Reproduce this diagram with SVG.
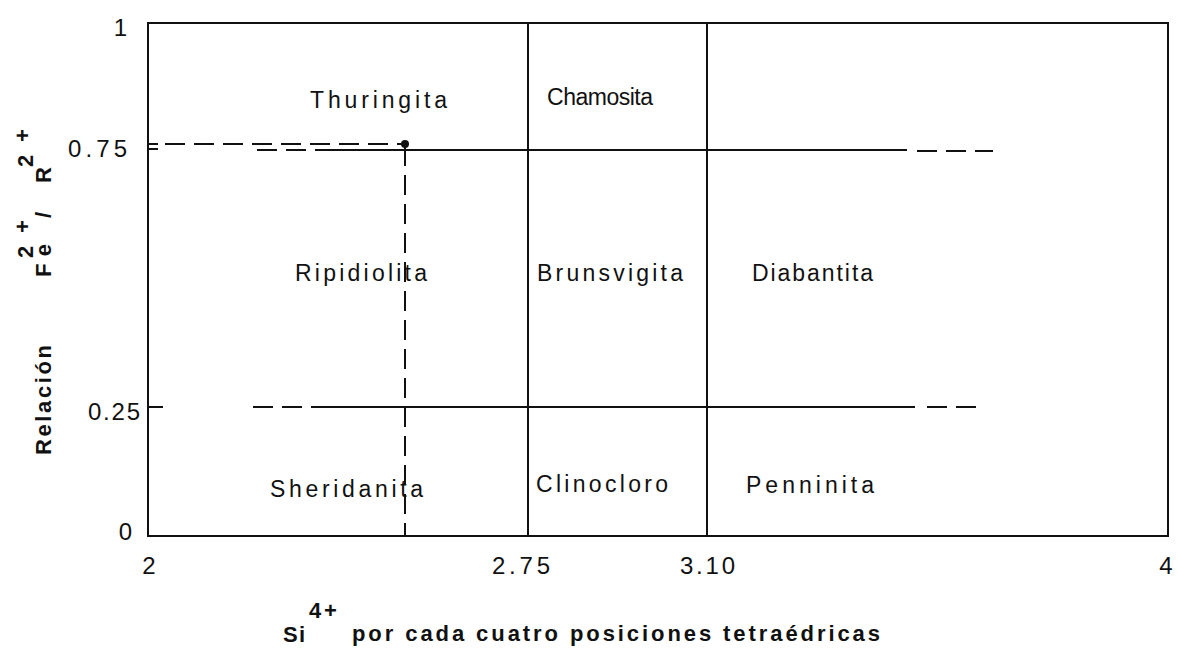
<svg xmlns="http://www.w3.org/2000/svg" width="1178" height="652" viewBox="0 0 1178 652">
<style>
.ln{stroke:#111;fill:none;stroke-width:2}
.dash{stroke:#111;fill:none;stroke-width:2;stroke-dasharray:20 9}
.lbl{font-family:"Liberation Sans",Arial,sans-serif;font-size:23px;fill:#111}
.tick{font-family:"Liberation Sans",Arial,sans-serif;font-size:24px;fill:#111}
.ttl{font-family:"Liberation Sans",Arial,sans-serif;font-size:22px;font-weight:bold;fill:#111}
</style>
<rect width="1178" height="652" fill="#fff"/>
<g id="frame">
<rect x="148" y="23" width="1020" height="513" class="ln" stroke-width="2.5"/>
</g>
<g id="connectors">
<line x1="528" y1="23" x2="528" y2="536" class="ln"/>
<line x1="707" y1="23" x2="707" y2="536" class="ln"/>
<line x1="148" y1="144" x2="158" y2="144" class="ln"/>
<line x1="148" y1="149" x2="158" y2="149" class="ln"/>
<line x1="165" y1="144" x2="402" y2="144" class="dash" stroke-dasharray="16 10"/>
<line x1="257" y1="150" x2="327" y2="150" class="dash" stroke-dasharray="16 7"/>
<line x1="327" y1="150" x2="907" y2="150" class="ln"/>
<line x1="917" y1="151" x2="993" y2="151" class="dash" stroke-dasharray="20 8"/>
<line x1="148" y1="407" x2="163" y2="407" class="ln"/>
<line x1="253" y1="407" x2="327" y2="407" class="dash" stroke-dasharray="26 8"/>
<line x1="327" y1="407" x2="915" y2="407" class="ln"/>
<line x1="927" y1="407" x2="985" y2="407" class="dash" stroke-dasharray="22 14"/>
<line x1="405" y1="146" x2="405" y2="536" class="dash" stroke-width="1.8" stroke-dasharray="14 9"/>
<circle cx="405" cy="144" r="4" fill="#111"/>
</g>
<g id="ticks">
<text class="tick" x="127" y="36" text-anchor="end">1</text>
<text class="tick" x="127" y="157" text-anchor="end" textLength="59">0.75</text>
<text class="tick" x="140" y="420" text-anchor="end" textLength="52">0.25</text>
<text class="tick" x="132" y="540" text-anchor="end">0</text>
<text class="tick" x="149" y="574" text-anchor="middle">2</text>
<text class="tick" x="492" y="574" textLength="58">2.75</text>
<text class="tick" x="680" y="574" textLength="55">3.10</text>
<text class="tick" x="1166" y="574" text-anchor="middle">4</text>
</g>
<g id="thuringita"><text class="lbl" x="310" y="108" textLength="137">Thuringita</text></g>
<g id="chamosita"><text class="lbl" x="547" y="105" font-size="21" textLength="106">Chamosita</text></g>
<g id="ripidiolita"><text class="lbl" x="295" y="281" textLength="132">Ripidiolita</text></g>
<g id="brunsvigita"><text class="lbl" x="537" y="281" textLength="146">Brunsvigita</text></g>
<g id="diabantita"><text class="lbl" x="752" y="281" textLength="121">Diabantita</text></g>
<g id="sheridanita"><text class="lbl" x="270" y="497" textLength="153">Sheridanita</text></g>
<g id="clinocloro"><text class="lbl" x="536" y="492" textLength="132">Clinocloro</text></g>
<g id="penninita"><text class="lbl" x="746" y="493" textLength="128">Penninita</text></g>
<g id="x-title">
<text class="ttl" x="283" y="642" font-size="25" textLength="22">Si</text>
<text class="ttl" x="309" y="618" font-size="20">4</text>
<text class="ttl" x="324" y="618" font-size="20">+</text>
<text class="ttl" x="352" y="641" textLength="528">por cada cuatro posiciones tetraédricas</text>
</g>
<g id="y-title" transform="rotate(-90)">
<text class="ttl" x="-455" y="51" textLength="110">Relación</text>
<text class="ttl" x="-277" y="51" textLength="33">Fe</text>
<text class="ttl" x="-258" y="33" font-size="22">2</text>
<text class="ttl" x="-233" y="30" font-size="22">+</text>
<text class="ttl" x="-218" y="51" font-size="24">/</text>
<text class="ttl" x="-183" y="51" font-size="22">R</text>
<text class="ttl" x="-167" y="33" font-size="22">2</text>
<text class="ttl" x="-142" y="30" font-size="22">+</text>
</g>
</svg>
